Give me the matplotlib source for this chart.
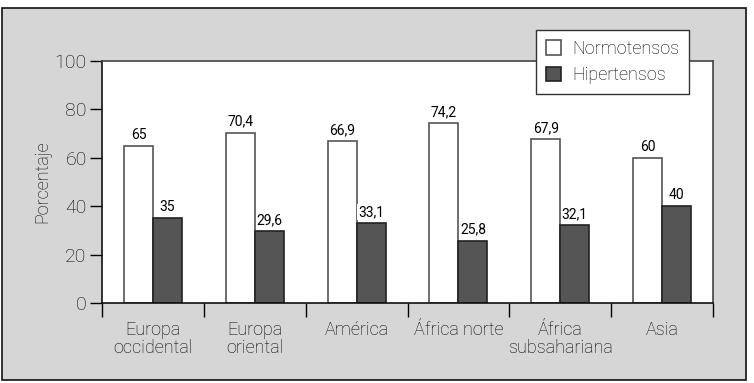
import matplotlib
matplotlib.use("Agg")
import matplotlib.pyplot as plt
from matplotlib.patches import Rectangle
import numpy as np

plt.rcParams['font.family'] = ['Roboto', 'DejaVu Sans']
plt.rcParams['font.weight'] = 'light'
plt.rcParams['axes.labelweight'] = 'light'
plt.rcParams['text.color'] = 'black'

regiones = ["Europa\noccidental", "Europa\noriental", "América", "África norte",
            "África\nsubsahariana", "Asia"]
normotensos = [65, 70.4, 66.9, 74.2, 67.9, 60]
hipertensos = [35, 29.6, 33.1, 25.8, 32.1, 40]

fig = plt.figure(figsize=(7.54, 3.83), dpi=100, facecolor='white')
# gray panel behind the chart
W, H = 754, 383
fig.patches.append(Rectangle((2 / W, 1 - 380 / H), 744 / W, 372 / H,
                             transform=fig.transFigure, facecolor='#d6d6d6',
                             edgecolor='#111111', lw=1.2, zorder=-5))

ax = fig.add_axes([102 / W, 1 - 303 / H, 611 / W, 242 / H])
ax.set_facecolor('white')

x = np.arange(len(regiones))
w = 0.285
b1 = ax.bar(x - w / 2, normotensos, w, color='white', edgecolor='#555555', lw=1.2, zorder=2)
b2 = ax.bar(x + w / 2, hipertensos, w, color='#555555', edgecolor='#222222', lw=1.2, zorder=2)

fmt = lambda v: f"{v:g}".replace('.', ',')
for rect, v in zip(b1, normotensos):
    ax.text(rect.get_x() + rect.get_width() / 2, v + 1.6, fmt(v), ha='center', va='bottom',
            fontsize=10, fontweight='normal', zorder=3)
for rect, v in zip(b2, hipertensos):
    ax.text(rect.get_x() + rect.get_width() / 2, v + 1.6, fmt(v), ha='center', va='bottom',
            fontsize=10, fontweight='normal', zorder=3,
            bbox=dict(facecolor='white', edgecolor='none', pad=0.5))

ax.set_xlim(-0.5, len(regiones) - 0.5)
ax.set_ylim(0, 100)
ax.set_yticks([0, 20, 40, 60, 80, 100])
ax.tick_params(axis='y', labelsize=14, length=9, width=1, pad=2)

ax.set_xticks(np.arange(len(regiones) + 1) - 0.5)
ax.set_xticklabels([])
ax.tick_params(axis='x', which='major', length=10, width=1)
ax.set_xticks(x, minor=True)
ax.set_xticklabels(regiones, minor=True, fontsize=13, linespacing=1.0)
ax.tick_params(axis='x', which='minor', length=0, pad=13)

for s in ['left', 'bottom']:
    ax.spines[s].set_color('#111111')
    ax.spines[s].set_linewidth(1.2)
for s in ['top', 'right']:
    ax.spines[s].set_color('#444444')
    ax.spines[s].set_linewidth(1.2)

ax.set_ylabel("Porcentaje", fontsize=13, labelpad=2)

leg = fig.legend([b1, b2], ["Normotensos", "Hipertensos"], loc='upper left',
                 bbox_to_anchor=(536 / W, 1 - 30 / H), fontsize=13, frameon=True,
                 fancybox=False, edgecolor='#333333', framealpha=1,
                 handlelength=0.85, handleheight=0.85, handletextpad=0.6,
                 borderpad=0.55, labelspacing=0.45, borderaxespad=0)
leg.get_frame().set_linewidth(1.0)

fig.savefig("out.png", dpi=100, facecolor='white')
